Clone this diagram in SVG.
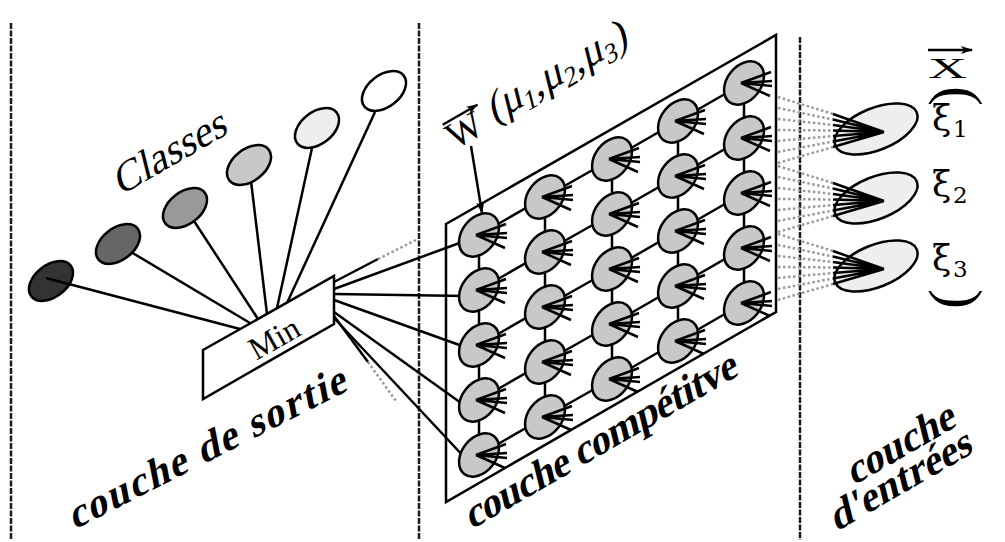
<svg xmlns="http://www.w3.org/2000/svg" width="1005" height="542" viewBox="0 0 1005 542">
<style>
.ln{stroke:#000;stroke-width:2.5;fill:none}
.dot{stroke:#9a9a9a;stroke-width:2.5;stroke-dasharray:2.5 2.5;fill:none}
.sep{stroke:#1a1a1a;stroke-width:2.5;stroke-dasharray:6 1.5;fill:none}
.nd{stroke:#000;stroke-width:2.5}
text{font-family:"Liberation Serif","Times New Roman",serif;fill:#000}
.lbl{font-weight:700;font-size:41px}
.gk{font-family:"DejaVu Serif","Liberation Serif",serif}
</style>
<defs>
<marker id="arr" viewBox="0 0 12 8" refX="11" refY="4" markerWidth="12" markerHeight="8" markerUnits="userSpaceOnUse" orient="auto">
<path d="M0,0 L12,4 L0,8 L3,4 z" fill="#000"/>
</marker>
<g id="gnode">
<ellipse rx="24" ry="17" transform="rotate(-52)" fill="#c8c8c8" class="nd"/>
<path d="M27,-11 L-3,0 L28,-2 M-3,0 L28,3 M-3,0 L26,13" class="ln"/>
</g>
<g id="inode">
<ellipse rx="44" ry="21" transform="rotate(-22)" fill="#eeeeee" class="nd"/>
<path d="M8,3 L-43,-15 M8,3 L-43,-9.5 M8,3 L-43,-4 M8,3 L-43,1.5 M8,3 L-43,7 M8,3 L-43,12.5 M8,3 L-43,18" class="ln"/>
</g>
</defs>
<rect width="1005" height="542" fill="#fff"/>
<g id="separators">
<line x1="11" y1="23" x2="11" y2="540" class="sep"/>
<line x1="419" y1="23" x2="419" y2="540" class="sep"/>
<line x1="800" y1="37" x2="800" y2="540" class="sep"/>
</g>
<g id="competitive-frame">
<polygon points="446,224 776,35 776,312 446,502" class="ln"/>
</g>
<g id="connectors">
<line x1="46" y1="278" x2="240" y2="329" class="ln"/>
<line x1="131" y1="252" x2="250" y2="323" class="ln"/>
<line x1="194" y1="221" x2="258" y2="319" class="ln"/>
<line x1="251" y1="181" x2="267" y2="314" class="ln"/>
<line x1="312" y1="148" x2="277" y2="308" class="ln"/>
<line x1="375" y1="112" x2="287" y2="303" class="ln"/>
<line x1="334" y1="282" x2="378" y2="259" class="ln"/>
<line x1="378" y1="259" x2="418" y2="239" class="dot"/>
<line x1="334" y1="289" x2="465" y2="241" class="ln"/>
<line x1="334" y1="294" x2="465" y2="296" class="ln"/>
<line x1="334" y1="300" x2="465" y2="347" class="ln"/>
<line x1="334" y1="312" x2="468" y2="408" class="ln"/>
<line x1="334" y1="316" x2="368" y2="362" class="ln"/>
<line x1="368" y1="362" x2="396" y2="401" class="dot"/>
<line x1="335" y1="319" x2="466" y2="459" class="ln"/>
<polyline points="479,235 545,197 612,159 678,121 744,83" class="ln"/>
<polyline points="479,290 545,252 612,214 678,176 744,138" class="ln"/>
<polyline points="479,345 545,307 612,269 678,231 744,193" class="ln"/>
<polyline points="479,400 545,362 612,324 678,286 744,248" class="ln"/>
<polyline points="479,455 545,417 612,379 678,341 744,303" class="ln"/>
<line x1="479" y1="235" x2="479" y2="455" class="ln"/>
<line x1="545" y1="197" x2="545" y2="417" class="ln"/>
<line x1="612" y1="159" x2="612" y2="379" class="ln"/>
<line x1="678" y1="121" x2="678" y2="341" class="ln"/>
<line x1="744" y1="83" x2="744" y2="303" class="ln"/>
<path class="dot" d="M778,97 L833,114 M778,108 L833,119.5 M778,119 L833,125 M778,130 L833,130.5 M778,141 L833,136 M778,152 L833,141.5 M778,163 L833,147"/>
<path class="dot" d="M778,166 L833,183 M778,177 L833,188.5 M778,188 L833,194 M778,199 L833,199.5 M778,210 L833,205 M778,221 L833,210.5 M778,232 L833,216"/>
<path class="dot" d="M778,234 L833,251 M778,245 L833,256.5 M778,256 L833,262 M778,267 L833,267.5 M778,278 L833,273 M778,289 L833,278.5 M778,300 L833,284"/>
<line x1="471" y1="146" x2="482" y2="213" class="ln" marker-end="url(#arr)"/>
</g>
<g id="class-1"><ellipse cx="51" cy="281" rx="25" ry="16" transform="rotate(-38 51 281)" fill="#333" class="nd"/><line x1="46" y1="278" x2="72" y2="285" class="ln"/></g>
<g id="class-2"><ellipse cx="118" cy="244" rx="25" ry="16" transform="rotate(-38 118 244)" fill="#666" class="nd"/></g>
<g id="class-3"><ellipse cx="185" cy="208" rx="25" ry="16" transform="rotate(-38 185 208)" fill="#999" class="nd"/></g>
<g id="class-4"><ellipse cx="249" cy="165" rx="25" ry="16" transform="rotate(-38 249 165)" fill="#c8c8c8" class="nd"/></g>
<g id="class-5"><ellipse cx="317" cy="128" rx="25" ry="16" transform="rotate(-38 317 128)" fill="#eee" class="nd"/></g>
<g id="class-6"><ellipse cx="384" cy="91" rx="25" ry="16" transform="rotate(-38 384 91)" fill="#fff" class="nd"/></g>
<g id="min-box">
<polygon points="203,350 334,276 334,324 203,399" fill="#fff" class="nd"/>
<text transform="translate(274,338) rotate(-29.5)" x="0" y="11" text-anchor="middle" font-size="32">Min</text>
</g>
<g id="grid-nodes">
<use id="n11" href="#gnode" x="479" y="235"/><use id="n21" href="#gnode" x="479" y="290"/><use id="n31" href="#gnode" x="479" y="345"/><use id="n41" href="#gnode" x="479" y="400"/><use id="n51" href="#gnode" x="479" y="455"/>
<use id="n12" href="#gnode" x="545" y="197"/><use id="n22" href="#gnode" x="545" y="252"/><use id="n32" href="#gnode" x="545" y="307"/><use id="n42" href="#gnode" x="545" y="362"/><use id="n52" href="#gnode" x="545" y="417"/>
<use id="n13" href="#gnode" x="612" y="159"/><use id="n23" href="#gnode" x="612" y="214"/><use id="n33" href="#gnode" x="612" y="269"/><use id="n43" href="#gnode" x="612" y="324"/><use id="n53" href="#gnode" x="612" y="379"/>
<use id="n14" href="#gnode" x="678" y="121"/><use id="n24" href="#gnode" x="678" y="176"/><use id="n34" href="#gnode" x="678" y="231"/><use id="n44" href="#gnode" x="678" y="286"/><use id="n54" href="#gnode" x="678" y="341"/>
<use id="n15" href="#gnode" x="744" y="83"/><use id="n25" href="#gnode" x="744" y="138"/><use id="n35" href="#gnode" x="744" y="193"/><use id="n45" href="#gnode" x="744" y="248"/><use id="n55" href="#gnode" x="744" y="303"/>
</g>
<g id="input-1"><use href="#inode" x="876" y="129"/></g>
<g id="input-2"><use href="#inode" x="876" y="198"/></g>
<g id="input-3"><use href="#inode" x="876" y="266"/></g>
<g id="labels">
<text transform="translate(120,196) rotate(-30) skewX(-16)" font-size="42">Classes</text>
<g transform="translate(455,150) rotate(-30)">
<text x="0" y="0" font-size="38">W</text>
<line x1="2" y1="-28" x2="42" y2="-28" class="ln" marker-end="url(#arr)"/>
<text x="46" y="-4" font-size="42" transform="skewX(-16)">(μ<tspan font-size="27" dy="7">1</tspan><tspan dy="-7">,μ</tspan><tspan font-size="27" dy="7">2</tspan><tspan dy="-7">,μ</tspan><tspan font-size="27" dy="7">3</tspan><tspan dy="-7">)</tspan></text>
</g>
<text transform="translate(928,78) scale(1.8,1)" font-size="30">X</text>
<line x1="928" y1="50" x2="972" y2="50" class="ln" marker-end="url(#arr)"/>
<text transform="translate(941,86) rotate(90)" font-size="60">(</text>
<text transform="translate(941,289) rotate(90)" font-size="60">)</text>
<text x="932" y="130" font-size="35" class="gk">ξ<tspan x="953" dy="7" font-size="23">1</tspan></text>
<text x="932" y="196" font-size="35" class="gk">ξ<tspan x="953" dy="7" font-size="23">2</tspan></text>
<text x="932" y="270" font-size="35" class="gk">ξ<tspan x="953" dy="7" font-size="23">3</tspan></text>
<text transform="translate(74,530) rotate(-27) skewX(-16)" class="lbl" textLength="308">couche de sortie</text>
<text transform="translate(471,530) rotate(-30) skewX(-16)" class="lbl" textLength="310">couche compétitve</text>
<text transform="translate(853,486) rotate(-30) skewX(-16)" class="lbl">couche</text>
<text transform="translate(836,532) rotate(-30) skewX(-16)" class="lbl">d'entrées</text>
</g>
</svg>
